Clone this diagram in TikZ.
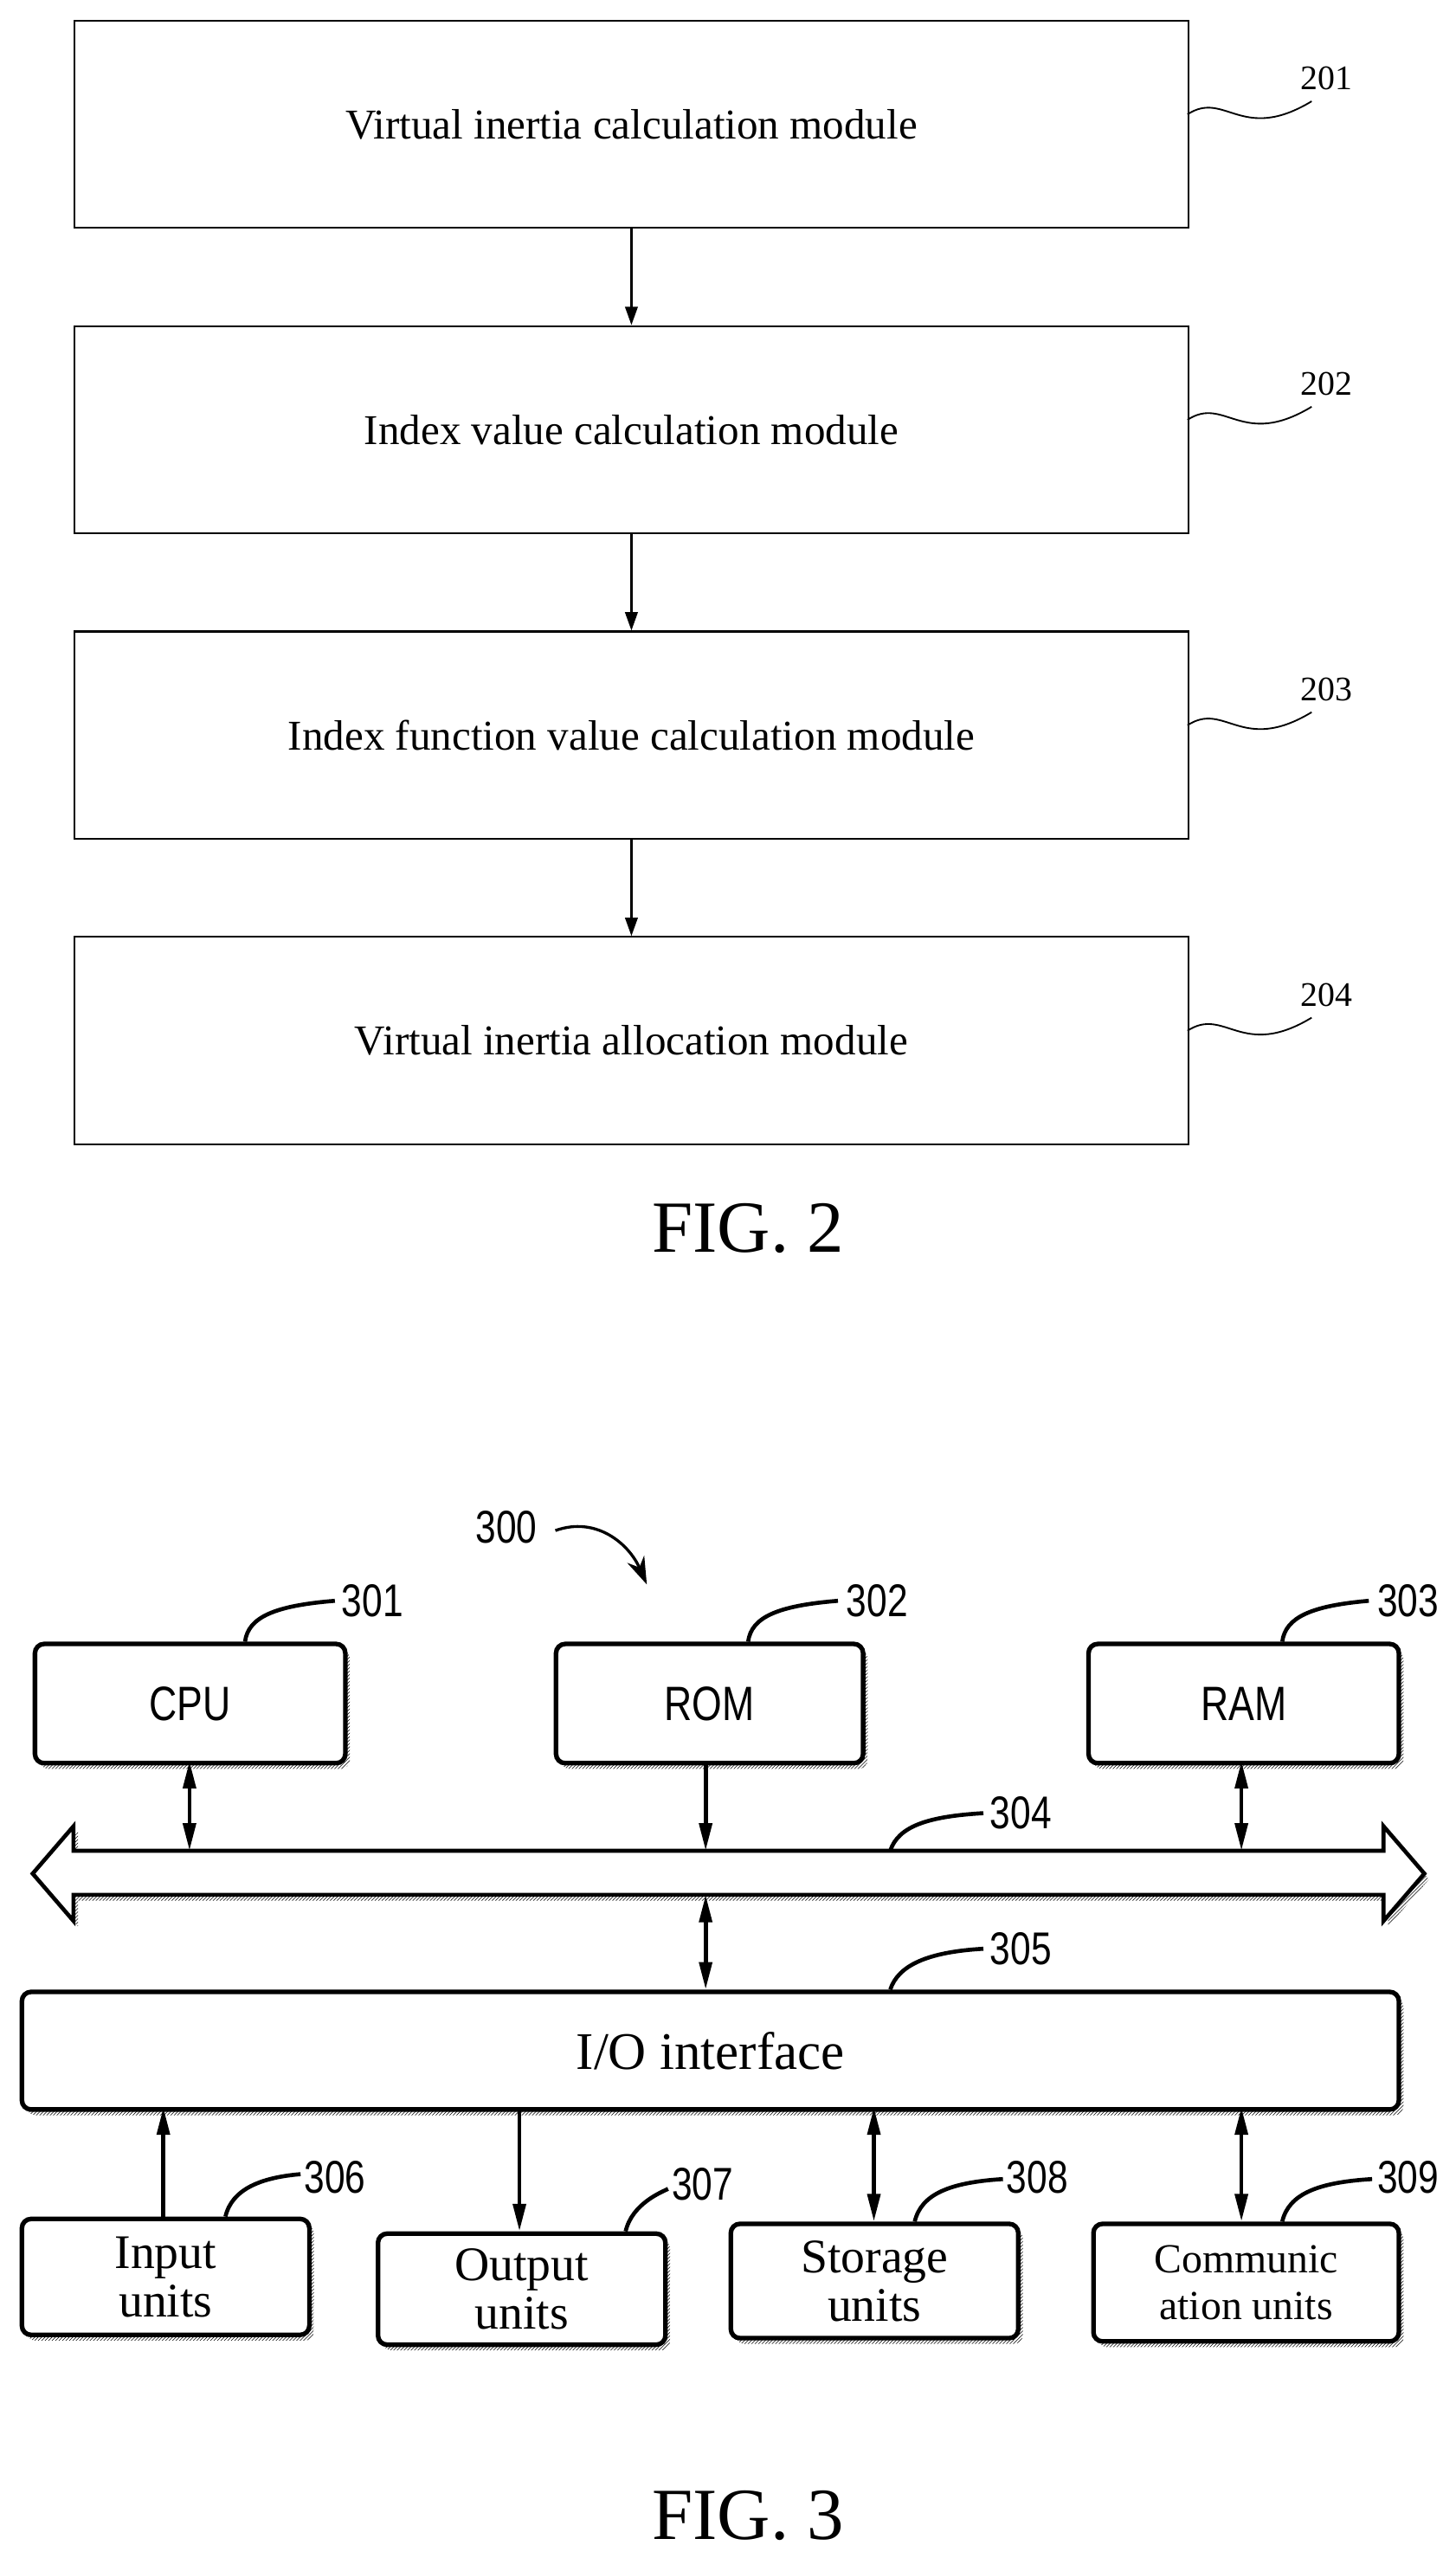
\documentclass[tikz,border=0pt]{standalone}
\usepackage{fontspec}
\setmainfont{Liberation Serif}
\newfontfamily\arialn{Liberation Sans}[FakeStretch=0.8]
\usetikzlibrary{arrows.meta,shadows,patterns}
\begin{document}
\begin{tikzpicture}[x=0.05cm,y=-0.05cm,
 mod/.style={draw,line width=1.6pt,minimum width=682*0.05cm,minimum height=127*0.05cm,font=\fontsize{37}{42}\selectfont,anchor=north west,inner sep=0},
 farr/.style={line width=1.6pt,-{Triangle[length=16pt,width=11pt]}},
 fnum/.style={font=\fontsize{30}{34}\selectfont},
 sbox/.style={draw,line width=4pt,rounded corners=8pt,fill=white,anchor=north west,inner sep=0,
   general shadow={shadow xshift=4pt,shadow yshift=-5pt,pattern=north east lines,draw=none}},
 hw/.style={font=\arialn\fontsize{42}{46}\selectfont},
 unit/.style={font=\fontsize{42}{42}\selectfont,align=center},
 snum/.style={font=\arialn\fontsize{40}{44}\selectfont},
 lead/.style={line width=3.5pt},
 barr/.style={line width=3.5pt,{Triangle[length=24pt,width=11pt]}-{Triangle[length=24pt,width=11pt]}},
 sarr/.style={line width=3.5pt,-{Triangle[length=24pt,width=11pt]}}]
\useasboundingbox (0,0) rectangle (891,1566);
% FIG 2
\node[mod] (m1) at (45,12) {Virtual inertia calculation module};
\node[mod] (m2) at (45,199) {Index value calculation module};
\node[mod] (m3) at (45,386) {Index function value calculation module};
\node[mod] (m4) at (45,573) {Virtual inertia allocation module};
\draw[farr] (m1.south) -- (m2.north);
\draw[farr] (m2.south) -- (m3.north);
\draw[farr] (m3.south) -- (m4.north);
\foreach \i/\y in {1/70,2/257,3/444,4/631}{
  \node[fnum] (n20\i) at (812,\y-22) {20\i};
  \draw[line width=1.4pt] (727,\y) .. controls (750,\y-15) and (760,\y+18) .. (803,\y-8);
}
\node[font=\fontsize{64}{70}\selectfont] (f2) at (458,752) {FIG. 2};
% FIG 3
\node[snum] (n300) at (310,935) {300};
\draw[line width=2.5pt,-{Stealth[length=24pt,width=16pt]}] (340,937) .. controls (365,928) and (385,945) .. (396,970);
\node[sbox,hw,minimum width=190*0.05cm,minimum height=73*0.05cm] (cpu) at (20,1005) {CPU};
\node[sbox,hw,minimum width=188*0.05cm,minimum height=73*0.05cm] (rom) at (339,1005) {ROM};
\node[sbox,hw,minimum width=190*0.05cm,minimum height=73*0.05cm] (ram) at (665,1005) {RAM};
\node[snum] (n301) at (228,980) {301};
\node[snum] (n302) at (537,980) {302};
\node[snum] (n303) at (862,980) {303};
\draw[lead] (150,1005) .. controls (152,990) and (168,983) .. (205,980);
\draw[lead] (458,1005) .. controls (460,990) and (476,983) .. (513,980);
\draw[lead] (785,1005) .. controls (787,990) and (803,983) .. (838,980);
% bus
\draw[line width=3.5pt,fill=white,general shadow={shadow xshift=4pt,shadow yshift=-5pt,pattern=north east lines,draw=none}]
 (20,1147) -- (45,1118) -- (45,1133) -- (847,1133) -- (847,1118) -- (872,1147) -- (847,1176) -- (847,1160) -- (45,1160) -- (45,1176) -- cycle;
\coordinate (b1) at (116,1133);
\coordinate (b2) at (432,1133);
\coordinate (b3) at (760,1133);
\coordinate (b4) at (432,1160);
\node[snum] (n304) at (625,1110) {304};
\draw[lead] (545,1133) .. controls (550,1118) and (568,1112) .. (602,1110);
\draw[barr] (116,1078) -- (b1);
\draw[sarr] (432,1078) -- (b2);
\draw[barr] (760,1078) -- (b3);
% IO
\node[sbox,minimum width=843*0.05cm,minimum height=72*0.05cm,font=\fontsize{46}{50}\selectfont] (io) at (12,1218) {I/O interface};
\draw[barr] (b4) -- (432,1218);
\node[snum] (n305) at (625,1193) {305};
\draw[lead] (545,1218) .. controls (550,1203) and (568,1195) .. (602,1193);
% units
\node[sbox,unit,minimum width=176*0.05cm,minimum height=71*0.05cm] (in) at (12,1357) {Input\\units};
\node[sbox,unit,minimum width=176*0.05cm,minimum height=68*0.05cm] (out) at (230,1366) {Output\\units};
\node[sbox,unit,minimum width=176*0.05cm,minimum height=70*0.05cm] (sto) at (446,1360) {Storage\\units};
\node[sbox,unit,font=\fontsize{36}{40}\selectfont,minimum width=187*0.05cm,minimum height=72*0.05cm] (com) at (668,1360) {Communic\\ation units};
\draw[sarr] (100,1357) -- (100,1290);
\draw[sarr] (318,1290) -- (318,1366);
\draw[barr] (535,1290) -- (535,1360);
\draw[barr] (760,1290) -- (760,1360);
\node[snum] (n306) at (205,1333) {306};
\node[snum] (n307) at (430,1337) {307};
\node[snum] (n308) at (635,1333) {308};
\node[snum] (n309) at (862,1333) {309};
\draw[lead] (138,1357) .. controls (142,1340) and (160,1333) .. (184,1331);
\draw[lead] (383,1366) .. controls (387,1349) and (405,1342) .. (409,1340);
\draw[lead] (560,1360) .. controls (564,1343) and (582,1336) .. (614,1334);
\draw[lead] (785,1360) .. controls (789,1343) and (807,1336) .. (840,1334);
\node[font=\fontsize{64}{70}\selectfont] (f3) at (458,1540) {FIG. 3};
\end{tikzpicture}
\end{document}
